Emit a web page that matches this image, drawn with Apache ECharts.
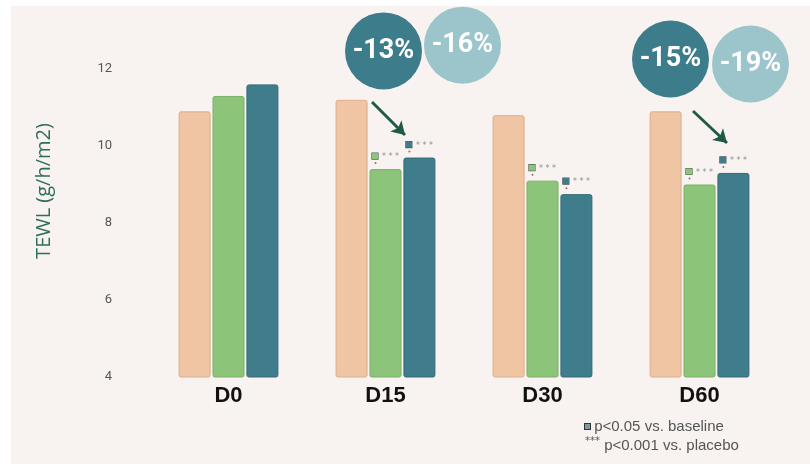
<!DOCTYPE html>
<html>
<head>
<meta charset="utf-8">
<script src="https://cdn.jsdelivr.net/npm/echarts@6/dist/echarts.min.js"></script>
<style>
    html, body { margin: 0; padding: 0; background: #ffffff; }
    #main { width: 810px; height: 464px; }
</style>
</head>
<body>
<div id="main"></div>
<script>
// chart values
const categories = ['D0', 'D15', 'D30', 'D60'];
const placeboValues = [10.9, 11.2, 10.8, 10.9];
const greenValues = [11.3, 9.4, 9.1, 9.0];
const tealValues = [11.6, 9.7, 8.75, 9.3];
// significance flags (square = vs baseline, *** = vs placebo)
const greenSig = [false, true, true, true];
const tealSig = [false, true, true, true];
// callout circles: category, text, height on the value axis
const calloutCats = ['D15', 'D15', 'D60', 'D60'];
const calloutLabels = ['-13%', '-16%', '-15%', '-19%'];
const calloutLevels = [12.47, 12.62, 12.26, 12.13];
const yMin = 4, yMax = 12, yStep = 2;

const COLORS = {
    peach: '#F0C5A4',
    green: '#8CC47A',
    teal: '#3F7D8D',
    dark: '#3D7C8B',
    light: '#9CC4CB',
    arrow: '#1F5A47'
};

let myChart = echarts.init(document.getElementById('main'));

/**
 * label with square + stars above significant bars
 */
function sigLabel(flags, color) {
    return {
        show: true,
        position: 'top',
        distance: 4,
        formatter: function (p) {
            if (!flags[p.dataIndex]) return '';
            return '{sq|}{gap|}{st|* * *}\n{dot|}{pad|}';
        },
        rich: {
            sq: {width: 6, height: 6, backgroundColor: color, borderColor: '#4a5a5a', borderWidth: 0.6},
            gap: {width: 4, height: 6},
            st: {fontSize: 8, color: '#8a8f8f', fontFamily: 'DejaVu Sans', padding: [2, 0, 0, 0]},
            dot: {width: 2, height: 2, backgroundColor: '#9a6a6a', borderRadius: 1},
            pad: {width: 20, height: 4}
        }
    };
}

let calloutOffsets = [[-2, 0], [77, 0], [-29, 0], [51, 0]];
let calloutData = calloutCats.map((c, i) => {
    return {
        value: [c, calloutLevels[i]],
        symbolOffset: calloutOffsets[i],
        itemStyle: {color: i % 2 === 0 ? COLORS.dark : COLORS.light, opacity: 1}
    };
});

let option = {
    animation: false,
    graphic: [{
        type: 'rect',
        z: -10,
        shape: {x: 11, y: 6, width: 800, height: 460},
        style: {fill: '#F8F3F0'}
    }],
    title: {
        left: 580,
        top: 412,
        text: '{sq|}{t| p<0.05 vs. baseline}\n{st|***}{t| p<0.001 vs. placebo}',
        textStyle: {
            fontWeight: 'normal',
            rich: {
                sq: {width: 5, height: 5, backgroundColor: '#7d9aa0', borderColor: '#333', borderWidth: 1},
                t: {fontSize: 15, color: '#555555', fontFamily: 'Liberation Sans', fontWeight: 'normal', lineHeight: 19},
                st: {fontSize: 10, color: '#555555', fontFamily: 'DejaVu Sans', fontWeight: 'normal', lineHeight: 19, verticalAlign: 'top'}
            }
        }
    },
    grid: {left: 150, right: 32, top: 69, bottom: 87},
    xAxis: {
        type: 'category',
        data: categories,
        axisLine: {show: false},
        axisTick: {show: false},
        axisLabel: {
            margin: 8,
            fontSize: 22,
            fontWeight: 'bold',
            color: '#111111',
            fontFamily: 'Liberation Sans'
        }
    },
    yAxis: {
        type: 'value',
        min: yMin,
        max: yMax,
        interval: yStep,
        splitLine: {show: false},
        axisLine: {show: false},
        axisTick: {show: false},
        axisLabel: {margin: 38, fontSize: 13, color: '#555555', fontFamily: 'Roboto'},
        name: 'TEWL (g/h/m2)',
        nameLocation: 'middle',
        nameGap: 96,
        nameTextStyle: {
            fontSize: 20,
            color: '#2D6E5E',
            fontFamily: 'Open Sans',
            padding: [0, 0, 0, 64]
        }
    },
    series: [{
        name: 'Placebo',
        type: 'bar',
        data: placeboValues,
        barWidth: 32,
        barGap: '6%',
        itemStyle: {color: COLORS.peach, borderColor: '#dcae8c', borderWidth: 1, borderRadius: 2}
    }, {
        name: 'Green',
        type: 'bar',
        data: greenValues,
        barWidth: 32,
        barGap: '6%',
        itemStyle: {color: COLORS.green, borderColor: '#79b066', borderWidth: 1, borderRadius: 2},
        label: sigLabel(greenSig, COLORS.green)
    }, {
        name: 'Teal',
        type: 'bar',
        data: tealValues,
        barWidth: 32,
        barGap: '6%',
        itemStyle: {color: COLORS.teal, borderColor: '#346b79', borderWidth: 1, borderRadius: 2},
        label: sigLabel(tealSig, COLORS.teal),
        markLine: {
            silent: true,
            symbol: ['none', 'arrow'],
            symbolSize: [12, 13],
            label: {show: false},
            lineStyle: {color: COLORS.arrow, width: 3, type: 'solid'},
            data: [
                [{x: 372, y: 102}, {x: 405, y: 135}],
                [{x: 693, y: 111}, {x: 727, y: 143}]
            ]
        }
    }, {
        name: 'Callouts',
        type: 'scatter',
        clip: false,
        symbol: 'circle',
        symbolSize: 77,
        z: 5,
        data: calloutData,
        label: {
            show: true,
            position: 'inside',
            formatter: function (p) {
                return calloutLabels[p.dataIndex];
            },
            fontSize: 27,
            fontWeight: 'bold',
            color: '#ffffff',
            fontFamily: 'Roboto'
        }
    }]
};

myChart.setOption(option);
</script>
</body>
</html>
